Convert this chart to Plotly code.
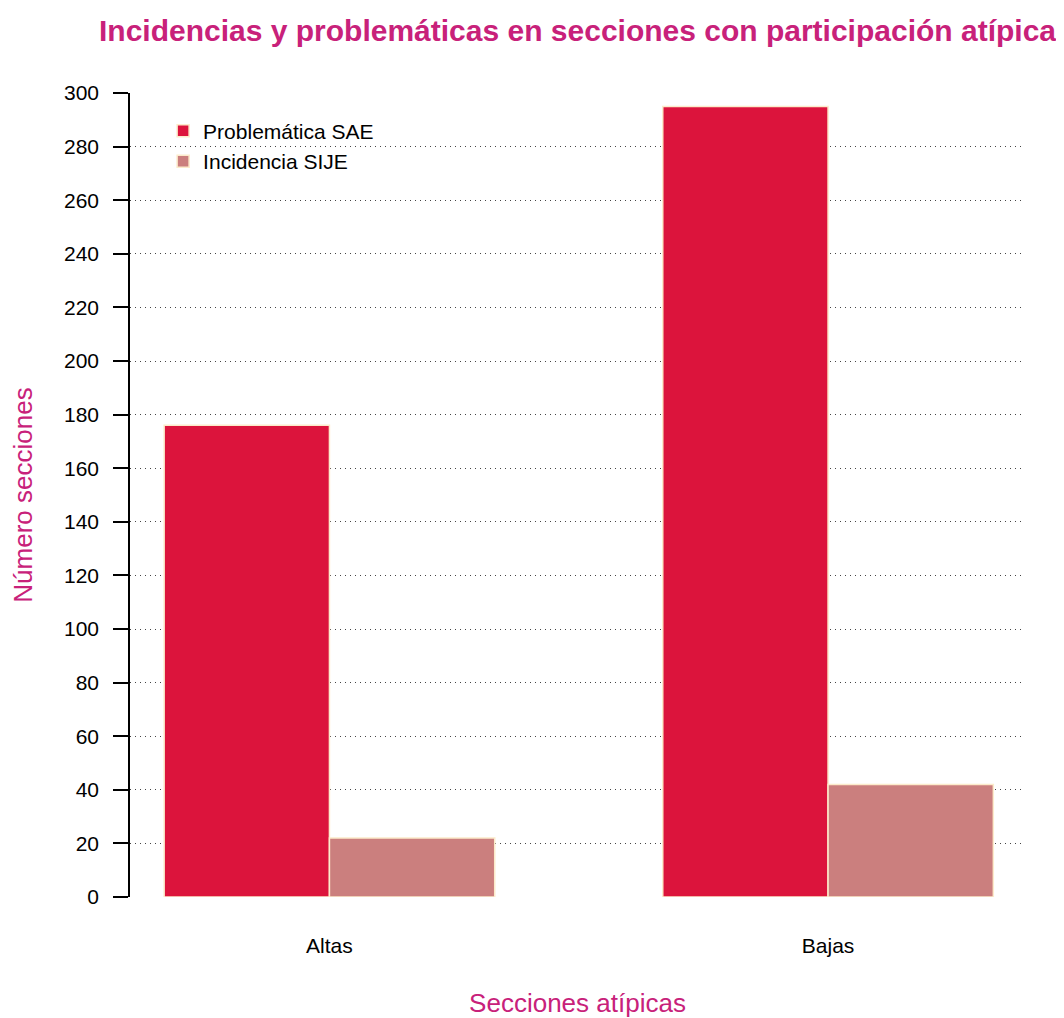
import plotly.graph_objects as go

categories = ["Altas", "Bajas"]
sae_values = [176, 295]
sije_values = [22, 42]
series_names = ["Problemática SAE", "Incidencia SIJE"]
y_ticks = list(range(0, 301, 20))

title_color = "#C8217A"
font_family = "Liberation Sans, Arial, sans-serif"
outline = "#FCEBCB"

fig = go.Figure()
fig.add_trace(go.Bar(x=categories, y=sae_values, name=series_names[0],
                     marker=dict(color="#DC143C", line=dict(color=outline, width=1.5))))
fig.add_trace(go.Bar(x=categories, y=sije_values, name=series_names[1],
                     marker=dict(color="#CB7F7E", line=dict(color=outline, width=1.5))))

# page body has an 8px default margin, so the figure is sized 8px smaller
fig.update_layout(
    width=1056, height=1010,
    margin=dict(l=122, r=39, t=85, b=121, autoexpand=False),
    paper_bgcolor="white", plot_bgcolor="white",
    barmode="group", bargap=0.337, bargroupgap=0,
    font=dict(family=font_family, size=21, color="black"),
    title=dict(text="<b>Incidencias y problemáticas en secciones con participación atípica</b>",
               x=0.5, xref="paper", xanchor="center", y=0.978, yanchor="middle",
               font=dict(size=30, color=title_color)),
    showlegend=True,
    legend=dict(x=0.037, y=0.978, xanchor="left", yanchor="top",
                bgcolor="rgba(0,0,0,0)", font=dict(size=21), tracegroupgap=0,
                itemclick=False),
    xaxis=dict(type="category", range=[-0.4, 1.395], showline=False, ticks="",
               showgrid=False, zeroline=False, ticklabelstandoff=34, automargin=False,
               tickfont=dict(size=21),
               title=dict(text="Secciones atípicas", font=dict(size=26, color=title_color),
                          standoff=40)),
    yaxis=dict(range=[0, 300], tickvals=y_ticks, showline=True, linecolor="black",
               linewidth=1.5, ticks="outside", ticklen=15, tickwidth=1.5, tickcolor="black",
               showgrid=True, gridcolor="#444444", gridwidth=1, griddash="1px,4px",
               zeroline=False, ticklabelstandoff=10, tickfont=dict(size=21), automargin=False,
               title=dict(text="Número secciones", font=dict(size=26, color=title_color),
                          standoff=28)),
)

fig.write_html("out.html")
